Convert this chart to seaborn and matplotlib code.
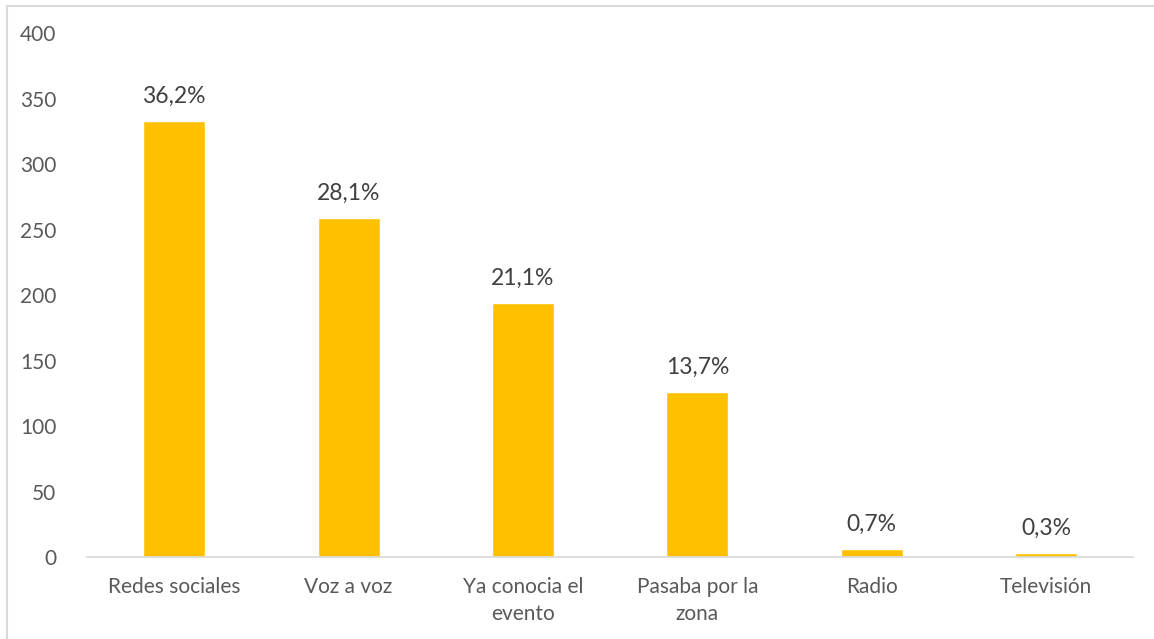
import matplotlib
matplotlib.use("Agg")
import matplotlib.pyplot as plt
import seaborn as sns
import pandas as pd
from matplotlib.patches import Rectangle

# data
categorias = ["Redes sociales", "Voz a voz", "Ya conocia el\nevento",
              "Pasaba por la\nzona", "Radio", "Televisión"]
valores = [333, 259, 194, 126, 6, 3]
porcentajes = ["36,2%", "28,1%", "21,1%", "13,7%", "0,7%", "0,3%"]

df = pd.DataFrame({"categoria": categorias, "valor": valores})

sns.set_style("white")
plt.rcParams["font.family"] = ["Lato", "DejaVu Sans"]

fig = plt.figure(figsize=(11.54, 6.39), dpi=100)
ax = fig.add_axes([0.0754, 0.128, 0.9066, 0.82])

sns.barplot(data=df, x="categoria", y="valor", color="#FFC000",
            saturation=1, width=0.355, ax=ax)

for i, (v, p) in enumerate(zip(valores, porcentajes)):
    ax.text(i, v + 11, p, ha="center", va="bottom", fontsize=16.5,
            color="#404040")

ax.set_ylim(0, 400)
ax.set_xlim(-0.5, 5.5)
ax.set_yticks(range(0, 401, 50))
ax.set_xlabel("")
ax.set_ylabel("")
ax.tick_params(axis="both", length=0, labelsize=15, labelcolor="#595959")
ax.tick_params(axis="y", pad=22)
ax.tick_params(axis="x", pad=14)
for lab in ax.get_xticklabels():
    lab.set_linespacing(1.45)
for s in ["top", "right", "left"]:
    ax.spines[s].set_visible(False)
ax.spines["bottom"].set_color("#D9D9D9")
ax.spines["bottom"].set_linewidth(1.2)

# light frame around the chart area
fig.patches.append(Rectangle((0.006, -0.01), 1.1, 1.0, transform=fig.transFigure,
                             fill=False, edgecolor="#D9D9D9", linewidth=1.5))

fig.savefig("out.png", dpi=100)
